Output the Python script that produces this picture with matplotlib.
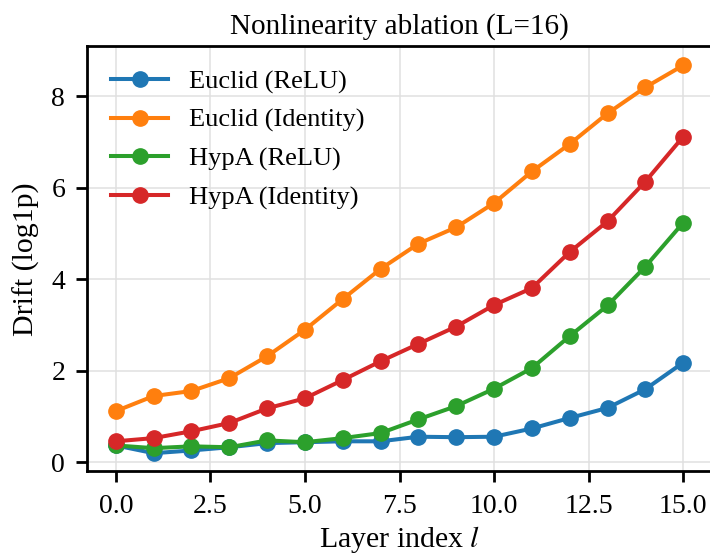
import matplotlib
matplotlib.use("Agg")
import matplotlib.pyplot as plt
import numpy as np

# layer index
layers = np.arange(16)

# drift (log1p) per layer
euclid_relu = [0.37, 0.20, 0.26, 0.33, 0.42, 0.44, 0.46, 0.46, 0.56, 0.55, 0.56, 0.74, 0.97, 1.19, 1.60, 2.18]
euclid_identity = [1.12, 1.45, 1.56, 1.84, 2.32, 2.90, 3.57, 4.23, 4.78, 5.14, 5.67, 6.36, 6.96, 7.63, 8.20, 8.68]
hypa_relu = [0.37, 0.31, 0.35, 0.33, 0.48, 0.44, 0.53, 0.64, 0.94, 1.23, 1.61, 2.06, 2.76, 3.43, 4.28, 5.24]
hypa_identity = [0.46, 0.53, 0.68, 0.86, 1.18, 1.40, 1.80, 2.21, 2.59, 2.97, 3.44, 3.81, 4.60, 5.27, 6.14, 7.12]

series = [
    ('Euclid (ReLU)', euclid_relu, '#1f77b4'),
    ('Euclid (Identity)', euclid_identity, '#ff7f0e'),
    ('HypA (ReLU)', hypa_relu, '#2ca02c'),
    ('HypA (Identity)', hypa_identity, '#d62728'),
]

plt.rcParams['font.family'] = ['Liberation Serif', 'DejaVu Serif']
plt.rcParams['mathtext.fontset'] = 'stix'

fig = plt.figure(figsize=(7.1, 5.56), dpi=100)
ax = fig.add_axes([0.1232, 0.152, 0.879, 0.765])

for name, vals, col in series:
    ax.plot(layers, vals, '-o', color=col, lw=2.9, ms=11, label=name)

ax.set_xlim(-0.75, 15.75)
ax.set_ylim(-0.2, 9.1)
ax.set_xticks([0, 2.5, 5, 7.5, 10, 12.5, 15])
ax.set_yticks([0, 2, 4, 6, 8])
ax.grid(True, color='#e0e0e0', lw=1.1)
ax.set_axisbelow(True)

for sp in ax.spines.values():
    sp.set_linewidth(2)
ax.tick_params(length=8, width=2, labelsize=20, pad=8)

ax.set_xlabel('Layer index $l$', fontsize=21.5, labelpad=4)
ax.set_ylabel('Drift (log1p)', fontsize=21.5, labelpad=8)
ax.set_title('Nonlinearity ablation (L=16)', fontsize=21, pad=9)

ax.legend(loc='upper left', frameon=False, fontsize=19, handlelength=2.15,
          borderaxespad=0.5, labelspacing=0.56)

fig.savefig('out.png', dpi=100)
